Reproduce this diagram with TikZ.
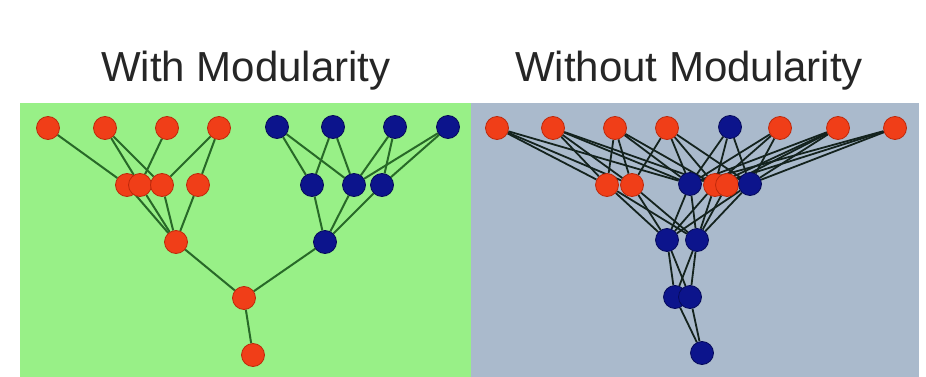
\documentclass[tikz,border=0pt]{standalone}
\usepackage{fontspec}
\setmainfont{Liberation Sans}
\pgfdeclarelayer{back}
\pgfdeclarelayer{edges}
\pgfsetlayers{back,edges,main}
\definecolor{greenbg}{RGB}{152,240,135}
\definecolor{greybg}{RGB}{170,186,204}
\definecolor{nred}{RGB}{240,62,24}
\definecolor{nredd}{RGB}{190,40,10}
\definecolor{nblue}{RGB}{12,20,140}
\definecolor{nblued}{RGB}{5,10,90}
\definecolor{gedge}{RGB}{40,105,40}
\definecolor{dedge}{RGB}{20,35,30}
\tikzset{
  rnode/.style={circle, fill=nred, draw=nredd, line width=0.8pt, minimum size=23pt, inner sep=0pt},
  bnode/.style={circle, fill=nblue, draw=nblued, line width=0.8pt, minimum size=23pt, inner sep=0pt},
  gline/.style={draw=gedge, line width=2pt},
  dline/.style={draw=dedge, line width=1.8pt},
  title/.style={anchor=base, font=\fontsize{42}{42}\selectfont, text=black!85, inner sep=0pt}
}
\begin{document}
\begin{tikzpicture}[x=1pt,y=-1pt]
\useasboundingbox (0,0) rectangle (926,377);
\begin{pgfonlayer}{back}
\fill[white] (0,0) rectangle (926,377);
\fill[greenbg] (20,103) rectangle (471,377);
\fill[greybg] (471,103) rectangle (919,377);
\end{pgfonlayer}
\node[title] (t1) at (246,82) {With Modularity};
\node[title] (t2) at (689,82) {Without Modularity};
% ---------- left panel ----------
\node[rnode] (r1) at (48,128) {};
\node[rnode] (r2) at (105,128) {};
\node[rnode] (r3) at (167,128) {};
\node[rnode] (r4) at (219,128) {};
\node[bnode] (b1) at (277,127) {};
\node[bnode] (b2) at (333,127) {};
\node[bnode] (b3) at (395,127) {};
\node[bnode] (b4) at (448,127) {};
\node[rnode] (ma) at (127,185) {};
\node[rnode] (mb) at (140,185) {};
\node[rnode] (mc) at (162,185) {};
\node[rnode] (md) at (198,185) {};
\node[bnode] (n1) at (312,185) {};
\node[bnode] (n2) at (354,185) {};
\node[bnode] (n3) at (382,185) {};
\node[rnode] (la) at (176,242) {};
\node[bnode] (lb) at (325,242) {};
\node[rnode] (bt) at (244,298) {};
\node[rnode] (bt2) at (253,355) {};
\begin{pgfonlayer}{edges}
\draw[gline] (r1) -- (ma);
\draw[gline] (r2) -- (mb);
\draw[gline] (r2) -- (mc);
\draw[gline] (r3) -- (mb);
\draw[gline] (r4) -- (mc);
\draw[gline] (r4) -- (md);
\draw[gline] (ma) -- (la);
\draw[gline] (mb) -- (la);
\draw[gline] (mc) -- (la);
\draw[gline] (md) -- (la);
\draw[gline] (b1) -- (n1);
\draw[gline] (b1) -- (n2);
\draw[gline] (b2) -- (n1);
\draw[gline] (b2) -- (n2);
\draw[gline] (b3) -- (n2);
\draw[gline] (b3) -- (n3);
\draw[gline] (b4) -- (n2);
\draw[gline] (b4) -- (n3);
\draw[gline] (n1) -- (lb);
\draw[gline] (n2) -- (lb);
\draw[gline] (n3) -- (lb);
\draw[gline] (la) -- (bt);
\draw[gline] (lb) -- (bt);
\draw[gline] (bt) -- (bt2);
\end{pgfonlayer}
% ---------- right panel ----------
\node[rnode] (u1) at (497,128) {};
\node[rnode] (u2) at (553,128) {};
\node[rnode] (u3) at (615,128) {};
\node[rnode] (u4) at (667,128) {};
\node[bnode] (u5) at (730,127) {};
\node[rnode] (u6) at (780,128) {};
\node[rnode] (u7) at (838,128) {};
\node[rnode] (u8) at (895,128) {};
\node[rnode] (v1) at (607,185) {};
\node[rnode] (v2) at (632,185) {};
\node[bnode] (v3) at (690,184) {};
\node[rnode] (v4) at (715,185) {};
\node[rnode] (v5) at (727,185) {};
\node[bnode] (v6) at (750,184) {};
\node[bnode] (w1) at (667,240) {};
\node[bnode] (w2) at (697,240) {};
\node[bnode] (p1) at (675,297) {};
\node[bnode] (p2) at (690,297) {};
\node[bnode] (q) at (702,353) {};
\begin{pgfonlayer}{edges}
\foreach \a/\b in {u1/v1,u1/v2,u1/v3,u2/v1,u2/v2,u2/v3,u2/v4,
  u3/v1,u3/v2,u3/v3,u3/v4,u4/v2,u4/v3,u4/v4,u4/v6,
  u5/v3,u5/v4,u5/v6,u6/v3,u6/v4,u6/v6,u7/v3,u7/v4,u7/v5,u7/v6,
  u8/v3,u8/v4,u8/v6,
  v1/w1,v1/w2,v2/w1,v2/w2,v3/w1,v3/w2,v4/w1,v4/w2,v5/w2,v6/w1,v6/w2,
  w1/p1,w1/p2,w2/p1,w2/p2,p1/q,p2/q}
  \draw[dline] (\a) -- (\b);
\end{pgfonlayer}
\end{tikzpicture}
\end{document}
